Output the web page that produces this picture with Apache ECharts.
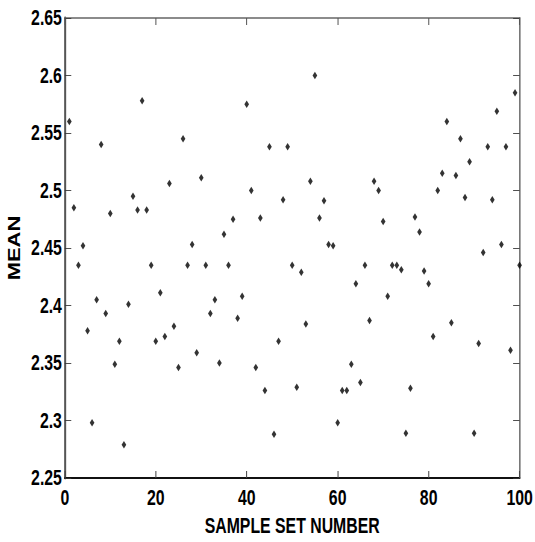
<!DOCTYPE html>
<html>
<head>
<meta charset="utf-8">
<script src="https://cdn.jsdelivr.net/npm/echarts@6/dist/echarts.min.js"></script>
<style>
html,body{margin:0;padding:0;background:#fff;overflow:hidden;}
#wrap{width:535px;height:542px;overflow:hidden;position:relative;}
#chart{width:743px;height:542px;transform:scaleX(0.72);transform-origin:0 0;position:absolute;left:0;top:0;}
</style>
</head>
<body>
<div id="wrap"><div id="chart"></div></div>
<script>
// Sample set numbers 1..100
const sampleNumbers = [
  1,2,3,4,5,6,7,8,9,10,11,12,13,14,15,16,17,18,19,20,
  21,22,23,24,25,26,27,28,29,30,31,32,33,34,35,36,37,38,39,40,
  41,42,43,44,45,46,47,48,49,50,51,52,53,54,55,56,57,58,59,60,
  61,62,63,64,65,66,67,68,69,70,71,72,73,74,75,76,77,78,79,80,
  81,82,83,84,85,86,87,88,89,90,91,92,93,94,95,96,97,98,99,100
];
// Mean value of each sample set
const meanValues = [
  2.560,2.485,2.435,2.452,2.378,2.298,2.405,2.540,2.393,2.480,
  2.349,2.369,2.279,2.401,2.495,2.483,2.578,2.483,2.435,2.369,
  2.411,2.373,2.506,2.382,2.346,2.545,2.435,2.453,2.359,2.511,
  2.435,2.393,2.405,2.350,2.462,2.435,2.475,2.389,2.408,2.575,
  2.500,2.346,2.476,2.326,2.538,2.288,2.369,2.492,2.538,2.435,
  2.329,2.429,2.384,2.508,2.600,2.476,2.491,2.453,2.452,2.298,
  2.326,2.326,2.349,2.419,2.333,2.435,2.387,2.508,2.500,2.473,
  2.408,2.435,2.435,2.431,2.289,2.328,2.477,2.464,2.430,2.419,
  2.373,2.500,2.515,2.560,2.385,2.513,2.545,2.494,2.525,2.289,
  2.367,2.446,2.538,2.492,2.569,2.453,2.538,2.361,2.585,2.435
];
const xTicks = [0, 20, 40, 60, 80, 100];
const yTicks = [2.25, 2.3, 2.35, 2.4, 2.45, 2.5, 2.55, 2.6, 2.65];
const xAxisTitle = 'SAMPLE SET NUMBER';
const yAxisTitle = 'MEAN';

const points = sampleNumbers.map((n, i) => [n, meanValues[i]]);
const font = "'Liberation Sans',Arial,Helvetica,sans-serif";

const chart = echarts.init(document.getElementById('chart'), null, {renderer: 'svg'});
chart.setOption({
  animation: false,
  backgroundColor: '#ffffff',
  grid: {left: 90, right: 19, top: 18, bottom: 62, containLabel: false},
  xAxis: [{
    type: 'value',
    min: xTicks[0], max: xTicks[xTicks.length - 1], interval: 20,
    position: 'bottom',
    name: xAxisTitle, nameLocation: 'middle', nameGap: 37,
    nameTextStyle: {fontFamily: font, fontWeight: 'bold', fontSize: 22, color: '#000'},
    axisLine: {show: true, onZero: false, lineStyle: {color: '#111', width: 2}},
    axisTick: {show: true, inside: true, length: 7, lineStyle: {color: '#444', width: 1.4}},
    axisLabel: {fontFamily: font, fontWeight: 'bold', fontSize: 22, color: '#000', margin: 9},
    splitLine: {show: false}
  }, {
    type: 'value',
    min: xTicks[0], max: xTicks[xTicks.length - 1], interval: 20,
    position: 'top',
    axisLine: {show: true, onZero: false, lineStyle: {color: '#666', width: 1.5}},
    axisTick: {show: true, inside: true, length: 7, lineStyle: {color: '#555', width: 1.4}},
    axisLabel: {show: false},
    splitLine: {show: false}
  }],
  yAxis: [{
    type: 'value',
    min: yTicks[0], max: yTicks[yTicks.length - 1], interval: 0.05,
    position: 'left',
    name: yAxisTitle, nameLocation: 'middle', nameGap: 58, nameRotate: 90,
    nameTextStyle: {fontFamily: font, fontWeight: 'bold', fontSize: 22, color: '#000'},
    axisLine: {show: true, onZero: false, lineStyle: {color: '#555', width: 2.8}},
    axisTick: {show: true, inside: true, length: 9, lineStyle: {color: '#333', width: 1}},
    axisLabel: {fontFamily: font, fontWeight: 'bold', fontSize: 22, color: '#000', margin: 4},
    splitLine: {show: false}
  }, {
    type: 'value',
    min: yTicks[0], max: yTicks[yTicks.length - 1], interval: 0.05,
    position: 'right',
    axisLine: {show: true, onZero: false, lineStyle: {color: '#666', width: 2}},
    axisTick: {show: true, inside: true, length: 9, lineStyle: {color: '#333', width: 1}},
    axisLabel: {show: false},
    splitLine: {show: false}
  }],
  series: [{
    type: 'scatter',
    xAxisIndex: 0, yAxisIndex: 0,
    data: points,
    symbol: 'diamond',
    symbolSize: [6.5, 7.5],
    itemStyle: {color: '#000'}
  }]
});
</script>
</body>
</html>
